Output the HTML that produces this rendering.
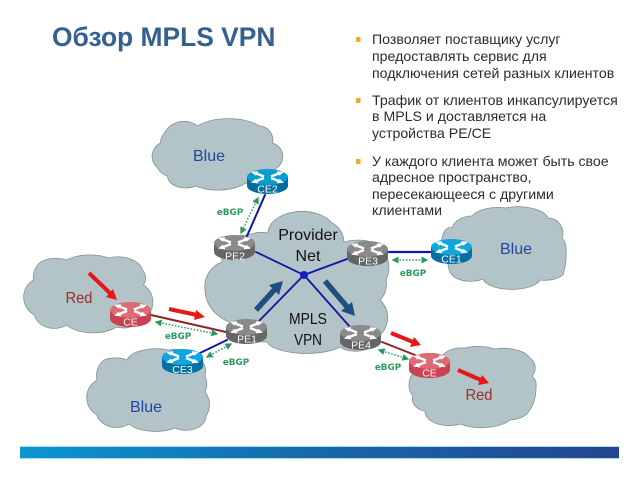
<!DOCTYPE html>
<html>
<head>
<meta charset="utf-8">
<style>
html,body{margin:0;padding:0;background:#fff}
svg{display:block}
.b{font-family:"Liberation Sans",sans-serif;font-size:14.15px;fill:#2b2b2b}
.c{font-family:"Liberation Sans",sans-serif;font-size:16px;text-anchor:middle}
.g{font-family:"DejaVu Sans","Liberation Sans",sans-serif;font-size:8.8px;font-weight:bold;fill:#2a9a5c;text-anchor:middle}
.r{font-family:"Liberation Sans",sans-serif;font-size:10.5px;fill:#fff;text-anchor:middle}
.cl{fill:#b2c4c7;stroke:#7f9195;stroke-width:.8}
.d{stroke:#2a9a5c;stroke-width:1.4;stroke-dasharray:1.6 1.6;fill:none;marker-start:url(#gs);marker-end:url(#ge)}
</style>
</head>
<body>
<svg xmlns="http://www.w3.org/2000/svg" width="638" height="479" viewBox="0 0 638 479">
<defs>
<linearGradient id="bar" x1="0" x2="1" y1="0" y2="0"><stop offset="0" stop-color="#0a96d2"/><stop offset=".5" stop-color="#1768ab"/><stop offset="1" stop-color="#25458f"/></linearGradient>
<marker id="ge" markerWidth="5" markerHeight="5" refX="4" refY="2.5" orient="auto"><path d="M0 0L5 2.5L0 5z" fill="#2a9a5c"/></marker>
<marker id="gs" markerWidth="5" markerHeight="5" refX="1" refY="2.5" orient="auto"><path d="M5 0L0 2.5L5 5z" fill="#2a9a5c"/></marker>
<g id="x" fill="none" stroke="#fff" stroke-width="2.4">
<path d="M8 4L17 7.5M24 9L33 12.5M33 4L24 7.5M17 9L8 12.5"/>
<path d="M11 3L6 3.5L9 6M30 3L35 3.5L32 6M11 13.5L6 13L9 10.5M30 13.5L35 13L32 10.5" stroke-width="1.6"/>
</g>
<path id="body" d="M0 8V17A20.5 8 0 0 0 41 17V8z"/>
<ellipse id="top" cx="20.5" cy="8" rx="20.5" ry="8"/>
</defs>
<rect width="638" height="479" fill="#fff"/>

<text x="52" y="46" font-family="Liberation Sans,sans-serif" font-size="26.4" font-weight="bold" fill="#35608f">Обзор MPLS VPN</text>

<g fill="#eda92d">
<rect x="356" y="37" width="4.5" height="5"/>
<rect x="356" y="98" width="4.5" height="5"/>
<rect x="356" y="159" width="4.5" height="5"/>
</g>
<text class="b" x="372" y="44">Позволяет поставщику услуг</text>
<text class="b" x="372" y="61">предоставлять сервис для</text>
<text class="b" x="372" y="78">подключения сетей разных клиентов</text>
<text class="b" x="372" y="105">Трафик от клиентов инкапсулируется</text>
<text class="b" x="372" y="121">в MPLS и доставляется на</text>
<text class="b" x="372" y="138">устройства PE/CE</text>
<text class="b" x="372" y="166">У каждого клиента может быть свое</text>
<text class="b" x="372" y="182">адресное пространство,</text>
<text class="b" x="372" y="199">пересекающееся с другими</text>
<text class="b" x="372" y="215">клиентами</text>

<!-- clouds -->
<path class="cl" transform="translate(-2.5,0)" d="M163 143A14 14 0 0 1 167 133A22 22 0 0 1 200 126A40 20 0 0 1 262 126A14 14 0 0 1 275 143A14 14 0 0 1 275 170A22 22 0 0 1 248 183A35 18 0 0 1 198 186A18 12 0 0 1 170 176A16 16 0 0 1 160 168A15 15 0 0 1 163 143Z"/>
<path class="cl" transform="translate(-3.5,0)" d="M37 280A20 20 0 0 1 44 262A25 18 0 0 1 70 260A30 14 0 0 1 112 258A25 16 0 0 1 146 270A12 12 0 0 1 147 285A20 20 0 0 1 145 320A20 14 0 0 1 120 327A32 18 0 0 1 70 325A20 16 0 0 1 38 315A20 20 0 0 1 37 280Z"/>
<path class="cl" transform="translate(-3,0)" d="M100 380A20 20 0 0 1 107 360A22 14 0 0 1 130 360A30 14 0 0 1 172 350A30 22 0 0 1 208 376A10 14 0 0 1 208 392A20 20 0 0 1 209 416A20 14 0 0 1 178 428A30 14 0 0 1 132 424A20 16 0 0 1 100 415A20 20 0 0 1 100 380Z"/>
<path class="cl" d="M452 228A20 16 0 0 1 472 216A28 14 0 0 1 506 208A30 14 0 0 1 548 218A15 15 0 0 1 562 238A8 12 0 0 1 566 248A20 40 0 0 1 563 275A22 12 0 0 1 540 280A29 12 0 0 1 483 279A18 8 0 0 1 456 278A12 16 0 0 1 448 262A8 16 0 0 1 452 228Z"/>
<path class="cl" d="M442 356A22 14 0 0 1 465 348A25 10 0 0 1 495 349A28 14 0 0 1 530 358A12 12 0 0 1 532 376A12 12 0 0 1 536 387A16 28 0 0 1 529 411A22 12 0 0 1 510 420A32 14 0 0 1 460 424A24 14 0 0 1 425 411A16 12 0 0 1 413 396A10 14 0 0 1 415 372A18 18 0 0 1 442 356Z"/>
<path class="cl" d="M248 235A24 14 0 0 1 268 233A34 22 0 0 1 332 223A22 22 0 0 1 344 242A28 14 0 0 1 372 242A28 28 0 0 1 386 280A22 22 0 0 1 380 300A24 24 0 0 1 380 335A25 20 0 0 1 340 347A40 14 0 0 1 267 342A34 24 0 0 1 232 323A40 36 0 0 1 205 290A26 26 0 0 1 222 262A24 24 0 0 1 248 235Z"/>

<text class="c" x="209" y="161" fill="#2346a0">Blue</text>
<text class="c" x="516" y="254" fill="#2346a0">Blue</text>
<text class="c" x="146" y="412" fill="#2346a0">Blue</text>
<text class="c" x="79" y="303" fill="#9c2d2d" textLength="27" lengthAdjust="spacingAndGlyphs">Red</text>
<text class="c" x="479" y="400" fill="#9c2d2d" textLength="27" lengthAdjust="spacingAndGlyphs">Red</text>
<text class="c" x="308" y="240" fill="#111">Provider</text>
<text class="c" x="308" y="261" fill="#111">Net</text>
<text class="c" x="308" y="324" fill="#111" textLength="38" lengthAdjust="spacingAndGlyphs">MPLS</text>
<text class="c" x="308" y="345" fill="#111" textLength="28" lengthAdjust="spacingAndGlyphs">VPN</text>

<!-- links -->
<g fill="none" stroke-linecap="round">
<path d="M256 252L304 275L347 259M259 321L304 275L350 327" stroke="#1214a8" stroke-width="1.8"/>
<path d="M265 195L247 236" stroke="#1214a8" stroke-width="2"/>
<path d="M389 252H431" stroke="#1214a8" stroke-width="2.2"/>
<path d="M227 340L200 353" stroke="#1214a8" stroke-width="2"/>
<path d="M151 315L226 332" stroke="#8f2424" stroke-width="2"/>
<path d="M382 342L415 355" stroke="#8f2424" stroke-width="2"/>
</g>
<circle cx="304" cy="275" r="4" fill="#1320c0"/>

<path class="d" d="M258 198L241 233"/>
<path class="d" d="M393 260H427"/>
<path class="d" d="M156 322L217 334"/>
<path class="d" d="M207 357L231 344"/>
<path class="d" d="M379 350L408 359"/>

<text class="g" x="230" y="215">eBGP</text>
<text class="g" x="413" y="276">eBGP</text>
<text class="g" x="178" y="339">eBGP</text>
<text class="g" x="236" y="365">eBGP</text>
<text class="g" x="388" y="370">eBGP</text>

<!-- arrows -->
<g fill="none" stroke="#e81616" stroke-width="4">
<path d="M89 273L112 295"/>
<path d="M169 309L197 315"/>
<path d="M391 333L413 342"/>
<path d="M458 370L481 380"/>
</g>
<g fill="#e81616">
<path d="M117 300L106 297L113 289Z"/>
<path d="M205 317L194 320L196 310Z"/>
<path d="M421 345L410 347L414 337Z"/>
<path d="M489 383L478 385L482 375Z"/>
</g>
<g fill="none" stroke="#1f4e80" stroke-width="5.5">
<path d="M256 310L276 288"/>
<path d="M325 281L348 308"/>
</g>
<g fill="#1f4e80">
<path d="M283 281L279 295L269 285Z"/>
<path d="M355 316L341 311L352 302Z"/>
</g>

<!-- routers -->
<g transform="translate(247,169)"><use href="#body" fill="#056d9f"/><use href="#top" fill="#0a9bd0"/><use href="#x"/><text class="r" x="20.5" y="23.5">CE2</text></g>
<g transform="translate(431,239)"><use href="#body" fill="#066fa3"/><use href="#top" fill="#10a6e0"/><use href="#x"/><text class="r" x="20.5" y="23.5">CE1</text></g>
<g transform="translate(162,349)"><use href="#body" fill="#066fa3"/><use href="#top" fill="#10a6e0"/><use href="#x"/><text class="r" x="20.5" y="24">CE3</text></g>
<g transform="translate(214,235)"><use href="#body" fill="#666"/><use href="#top" fill="#8a8a8a"/><use href="#x"/><text class="r" x="21" y="24.5">PE2</text></g>
<g transform="translate(347,241)"><use href="#body" fill="#666"/><use href="#top" fill="#8a8a8a"/><use href="#x"/><text class="r" x="21" y="23.5">PE3</text></g>
<g transform="translate(340,325)"><use href="#body" fill="#666"/><use href="#top" fill="#8a8a8a"/><use href="#x"/><text class="r" x="21" y="23.5">PE4</text></g>
<g transform="translate(226,319)"><use href="#body" fill="#666"/><use href="#top" fill="#8a8a8a"/><use href="#x"/><text class="r" x="21" y="23.5">PE1</text></g>
<g transform="translate(110,302)"><use href="#body" fill="#c9424f"/><use href="#top" fill="#e06a74"/><use href="#x"/><text class="r" x="20.5" y="23.5">CE</text></g>
<g transform="translate(409,353)"><use href="#body" fill="#c9424f"/><use href="#top" fill="#e06a74"/><use href="#x"/><text class="r" x="20.5" y="23.5">CE</text></g>

<!-- footer -->
<rect x="20" y="446" width="599" height="13" fill="#a8dcef"/>
<rect x="20" y="447" width="599" height="11" fill="url(#bar)"/>
</svg>
</body>
</html>
